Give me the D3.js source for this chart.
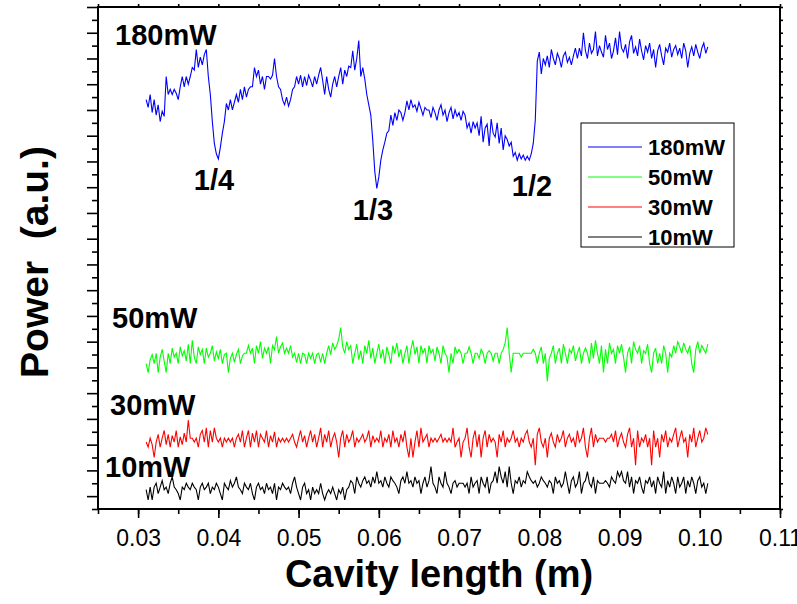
<!DOCTYPE html>
<html>
<head>
<meta charset="utf-8">
<script src="https://cdn.jsdelivr.net/npm/d3@7"></script>
<style>
  html, body { margin: 0; padding: 0; background: #fff; }
  svg { display: block; }
  text { font-family: "Liberation Sans", Arial, sans-serif; }
</style>
</head>
<body>
<svg id="chart" width="797" height="604"></svg>
<script>
// Scan range of the cavity length (m); samples are evenly spaced across it
const xStart = 0.031;
const xEnd = 0.101;

const seriesNames = ["180mW", "50mW", "30mW", "10mW"];
const seriesColors = ["#0000ff", "#00ff00", "#ff0000", "#000000"];

const xMajorTicks = [0.03, 0.04, 0.05, 0.06, 0.07, 0.08, 0.09, 0.10, 0.11];

// Transmitted power (a.u.) per pump level
const power180 = [
  318, 312, 322, 308, 318, 306, 314, 301, 309, 305,
  336, 322, 326, 322, 326, 323, 318, 328, 336, 328, 336, 330, 336,
  343, 341, 357, 343, 351, 345, 353, 357,
  336, 322, 301, 284, 276, 272, 281, 292, 301,
  315, 310, 318, 310, 316, 322, 316, 326, 318, 328, 320, 326,
  328, 328, 343, 336, 341, 330, 336, 326, 336, 336, 334, 337, 350,
  336, 328, 326, 318, 314, 320, 313, 318, 326, 328,
  336, 330, 337, 328, 336, 329, 337, 333, 328, 336, 330, 337, 343,
  333, 322, 336, 326, 320, 330, 336, 328,
  336, 343, 330, 341, 336, 344, 343, 356, 341, 350, 364, 336, 343,
  334, 322, 314, 306, 286, 262, 249, 258, 271, 279, 285, 292, 294, 306, 298,
  308, 302, 310, 308, 302, 308,
  317, 310, 318, 312, 314, 309, 316, 311, 306, 312, 310,
  310, 304, 312, 308, 302, 310, 314, 306, 310, 301, 308, 312, 303, 310, 305, 308, 302, 309, 306,
  296, 300, 292, 301, 296,
  300, 290, 305, 285, 296, 299, 282, 303, 292, 289, 300, 284, 296, 279, 290, 287, 282, 285,
  274, 277, 271, 276, 272, 275, 271, 274, 271, 276,
  284, 302, 348, 355, 338, 350,
  345, 352, 343, 357, 350, 345, 354, 350, 343, 352, 355, 347, 351, 345, 352, 358, 350,
  358, 352, 370, 356, 350, 362, 354, 357, 371, 352, 360, 355, 351, 368, 357, 362, 350, 356, 366, 353,
  371, 358, 355, 361, 350, 363, 368, 354, 359, 352, 365, 356, 349, 360, 355, 362, 350, 357, 343, 356,
  361, 352, 345, 358, 355, 362, 351, 357, 360, 353, 358, 350, 362, 356, 343, 354, 359, 352, 361, 355,
  350, 358, 362, 354, 359
];

const power50 = [
  113, 106, 116, 120, 113, 121, 106, 118, 124, 115,
  106, 121, 113, 125, 118, 121, 113, 126, 119, 123,
  115, 128, 113, 131, 118, 113, 126, 120, 124, 113,
  125, 118, 121, 127, 115, 122, 117, 124, 113, 120,
  121, 106, 117, 121, 114, 120, 124, 113, 119, 121,
  121, 127, 121, 125, 113, 127, 121, 130, 117, 125,
  121, 126, 113, 127, 124, 134, 121, 126, 129, 121,
  125, 121, 127, 118, 121, 114, 121, 113, 121, 120,
  113, 121, 117, 121, 113, 120, 121, 114, 121, 113,
  121, 127, 120, 129, 124, 127, 132, 141, 126, 121,
  130, 124, 127, 113, 121, 128, 116, 123, 113, 127,
  121, 131, 117, 125, 113, 121, 128, 117, 124, 113,
  126, 120, 113, 127, 121, 129, 118, 124, 113, 121,
  127, 113, 124, 131, 120, 126, 113, 127, 121, 125,
  113, 127, 121, 124, 115, 126, 121, 113, 127, 121,
  118, 106, 121, 113, 126, 121, 124, 121, 113, 121,
  121, 126, 121, 113, 121, 121, 117, 124, 121, 113,
  121, 123, 121, 115, 121, 121, 113, 121, 124, 129,
  141, 121, 106, 121, 121, 121, 121, 118, 121, 121,
  121, 121, 121, 124, 121, 113, 121, 126, 113, 121,
  99, 117, 121, 127, 113, 121, 125, 113, 128, 121,
  113, 124, 121, 127, 115, 121, 126, 113, 121, 125,
  121, 113, 129, 117, 131, 121, 113, 127, 106, 124,
  113, 129, 121, 124, 113, 127, 121, 128, 118, 106,
  121, 126, 113, 130, 124, 121, 127, 113, 123, 121,
  128, 113, 106, 121, 125, 113, 121, 113, 127, 121,
  106, 121, 118, 127, 121, 130, 126, 121, 129, 124,
  121, 127, 113, 106, 124, 130, 121, 127, 124, 121, 128
];

const power30 = [
  52, 48, 55, 50, 40, 52, 58, 48, 55, 61,
  50, 58, 48, 57, 52, 61, 48, 56, 50, 59,
  52, 69, 55, 55, 52, 55, 48, 58, 61, 52,
  63, 48, 61, 52, 63, 55, 52, 55, 48, 55,
  52, 55, 52, 55, 48, 55, 58, 52, 61, 48,
  55, 61, 48, 59, 52, 61, 48, 58, 55, 52,
  61, 48, 57, 52, 60, 48, 55, 52, 55, 52,
  55, 52, 55, 58, 52, 48, 55, 61, 52, 57,
  48, 55, 61, 52, 58, 48, 55, 63, 48, 58,
  52, 61, 48, 55, 59, 52, 40, 55, 61, 48,
  58, 52, 55, 61, 48, 55, 52, 55, 58, 52,
  55, 61, 48, 57, 52, 55, 52, 61, 48, 55,
  52, 58, 48, 61, 52, 55, 48, 58, 52, 61,
  48, 40, 55, 40, 52, 61, 48, 63, 52, 55,
  58, 48, 55, 52, 55, 52, 55, 58, 52, 55,
  52, 55, 52, 63, 48, 52, 55, 40, 52, 55,
  63, 48, 40, 55, 61, 48, 58, 40, 55, 61,
  48, 58, 52, 55, 52, 40, 58, 52, 61, 48,
  55, 52, 55, 61, 52, 55, 48, 55, 52, 58,
  61, 52, 48, 55, 34, 58, 63, 52, 48, 55,
  40, 55, 59, 52, 48, 58, 52, 55, 61, 48,
  55, 58, 52, 55, 48, 61, 52, 55, 63, 48,
  40, 55, 63, 48, 58, 52, 55, 55, 55, 52,
  55, 55, 58, 52, 61, 48, 55, 59, 52, 48,
  58, 63, 48, 55, 34, 61, 48, 55, 52, 58,
  48, 55, 34, 61, 48, 55, 40, 58, 52, 61,
  48, 55, 52, 58, 63, 48, 55, 61, 52, 55,
  40, 58, 52, 63, 48, 55, 61, 52, 55, 63, 58
];

const power10 = [
  15, 7, 17, 7, 17, 20, 12, 17, 22, 15,
  17, 12, 20, 25, 17, 15, 12, 7, 17, 15,
  20, 17, 15, 20, 17, 15, 7, 17, 20, 15,
  17, 20, 12, 17, 15, 20, 17, 12, 7, 20,
  17, 15, 22, 17, 20, 25, 17, 15, 12, 20,
  17, 15, 20, 12, 7, 17, 20, 15, 17, 12,
  20, 15, 17, 12, 20, 7, 17, 15, 20, 17,
  15, 17, 12, 20, 25, 17, 12, 7, 17, 20,
  12, 15, 7, 17, 12, 15, 12, 20, 12, 7,
  12, 15, 12, 17, 12, 7, 15, 12, 17, 7,
  15, 17, 22, 20, 12, 25, 20, 17, 22, 25,
  20, 22, 17, 25, 20, 29, 20, 22, 17, 25,
  20, 17, 25, 22, 20, 17, 12, 22, 25, 20,
  29, 20, 22, 17, 25, 20, 22, 12, 20, 25,
  17, 22, 33, 20, 17, 12, 25, 20, 17, 29,
  20, 17, 12, 20, 22, 17, 20, 20, 20, 17,
  20, 12, 25, 17, 20, 22, 12, 25, 20, 17,
  25, 12, 20, 22, 29, 20, 33, 25, 20, 29,
  17, 33, 20, 12, 22, 20, 25, 17, 22, 20,
  29, 25, 22, 20, 22, 17, 20, 25, 22, 20,
  17, 22, 20, 12, 25, 20, 22, 17, 20, 29,
  20, 12, 22, 25, 17, 20, 29, 12, 20, 22,
  29, 20, 17, 25, 12, 22, 20, 20, 20, 22,
  20, 17, 25, 22, 20, 29, 25, 29, 22, 20,
  29, 17, 25, 12, 22, 20, 25, 17, 12, 22,
  20, 25, 17, 22, 12, 25, 20, 17, 29, 12,
  22, 17, 25, 20, 12, 25, 17, 20, 25, 12,
  22, 17, 25, 20, 12, 22, 25, 17, 20, 12, 20
];

const seriesValues = [power180, power50, power30, power10];

// ---- layout ----
const svg = d3.select("#chart");
const plot = { left: 98, right: 780, top: 7, bottom: 509 };

const x = d3.scaleLinear().domain([0.025, 0.11]).range([plot.left, plot.right]);
const y = d3.scaleLinear().domain([0, 390]).range([plot.bottom, plot.top]);

const xMinor = d3.range(0.025, 0.11001, 0.005);
const yMajor = d3.range(10, 391, 20);
const yMinor = d3.range(0, 391, 20);
const yAll = d3.range(0, 391, 10);

function cleanAxis(g) {
  g.select(".domain").remove();
  g.selectAll(".tick line").attr("stroke", "#000").attr("stroke-width", 1.6);
}

// bottom axis: minor then major ticks with labels
svg.append("g")
  .attr("transform", `translate(0,${plot.bottom})`)
  .call(d3.axisBottom(x).tickValues(xMinor).tickSize(5).tickFormat(""))
  .call(cleanAxis);

const xAxisG = svg.append("g")
  .attr("transform", `translate(0,${plot.bottom})`)
  .call(d3.axisBottom(x).tickValues(xMajorTicks).tickSize(9).tickPadding(12)
    .tickFormat(d3.format(".2f")))
  .call(cleanAxis);
xAxisG.selectAll(".tick text")
  .attr("fill", "#000")
  .style("font-family", "'Liberation Sans Narrow', 'Arial Narrow', 'Liberation Sans', sans-serif")
  .style("font-size", "23px");

// top axis
svg.append("g")
  .attr("transform", `translate(0,${plot.top})`)
  .call(d3.axisTop(x).tickValues(xMinor).tickSize(3).tickFormat(""))
  .call(cleanAxis);

// left axis: alternating long / short ticks, no labels
svg.append("g")
  .attr("transform", `translate(${plot.left},0)`)
  .call(d3.axisLeft(y).tickValues(yMinor).tickSize(6).tickFormat(""))
  .call(cleanAxis);
svg.append("g")
  .attr("transform", `translate(${plot.left},0)`)
  .call(d3.axisLeft(y).tickValues(yMajor).tickSize(11).tickFormat(""))
  .call(cleanAxis);

// right axis
svg.append("g")
  .attr("transform", `translate(${plot.right},0)`)
  .call(d3.axisRight(y).tickValues(yAll).tickSize(3).tickFormat(""))
  .call(cleanAxis);

// frame
svg.append("rect")
  .attr("x", plot.left).attr("y", plot.top)
  .attr("width", plot.right - plot.left).attr("height", plot.bottom - plot.top)
  .attr("fill", "none").attr("stroke", "#000").attr("stroke-width", 2);

// traces
const line = d3.line()
  .x(d => x(d[0]))
  .y(d => y(d[1]));

seriesValues.forEach((vals, k) => {
  const step = (xEnd - xStart) / (vals.length - 1);
  const pts = vals.map((v, i) => [xStart + i * step, v]);
  svg.append("path")
    .datum(pts)
    .attr("fill", "none")
    .attr("stroke", seriesColors[k])
    .attr("stroke-width", 1.1)
    .attr("d", line);
});

// trace labels and resonance markers
const labels = [
  { t: "180mW", x: 115, y: 45, a: "start" },
  { t: "50mW", x: 112, y: 328, a: "start" },
  { t: "30mW", x: 110, y: 415, a: "start" },
  { t: "10mW", x: 105, y: 477, a: "start" },
  { t: "1/4", x: 214, y: 190, a: "middle" },
  { t: "1/3", x: 373, y: 220, a: "middle" },
  { t: "1/2", x: 532, y: 196, a: "middle" }
];
svg.selectAll("text.lbl")
  .data(labels)
  .join("text")
  .attr("class", "lbl")
  .attr("x", d => d.x).attr("y", d => d.y)
  .attr("text-anchor", d => d.a)
  .attr("font-weight", "bold")
  .attr("font-size", 29)
  .attr("fill", "#000")
  .text(d => d.t);

// legend
const lg = svg.append("g");
lg.append("rect")
  .attr("x", 581).attr("y", 123).attr("width", 153).attr("height", 124)
  .attr("fill", "#fff").attr("stroke", "#000").attr("stroke-width", 1);
seriesNames.forEach((name, k) => {
  const yy = 147 + k * 30;
  lg.append("line")
    .attr("x1", 588).attr("x2", 642).attr("y1", yy).attr("y2", yy)
    .attr("stroke", seriesColors[k]).attr("stroke-width", 1);
  lg.append("text")
    .attr("x", 648).attr("y", yy + 8)
    .attr("font-weight", "bold").attr("font-size", 22)
    .attr("fill", "#000")
    .text(name);
});

// axis titles
svg.append("text")
  .attr("x", 439).attr("y", 587)
  .attr("text-anchor", "middle")
  .attr("font-weight", "bold").attr("font-size", 38)
  .attr("fill", "#000")
  .text("Cavity length (m)");

svg.append("text")
  .attr("transform", "translate(48,262) rotate(-90)")
  .attr("text-anchor", "middle")
  .attr("font-weight", "bold").attr("font-size", 39)
  .attr("fill", "#000")
  .style("white-space", "pre")
  .text("Power  (a.u.)");
</script>
</body>
</html>
